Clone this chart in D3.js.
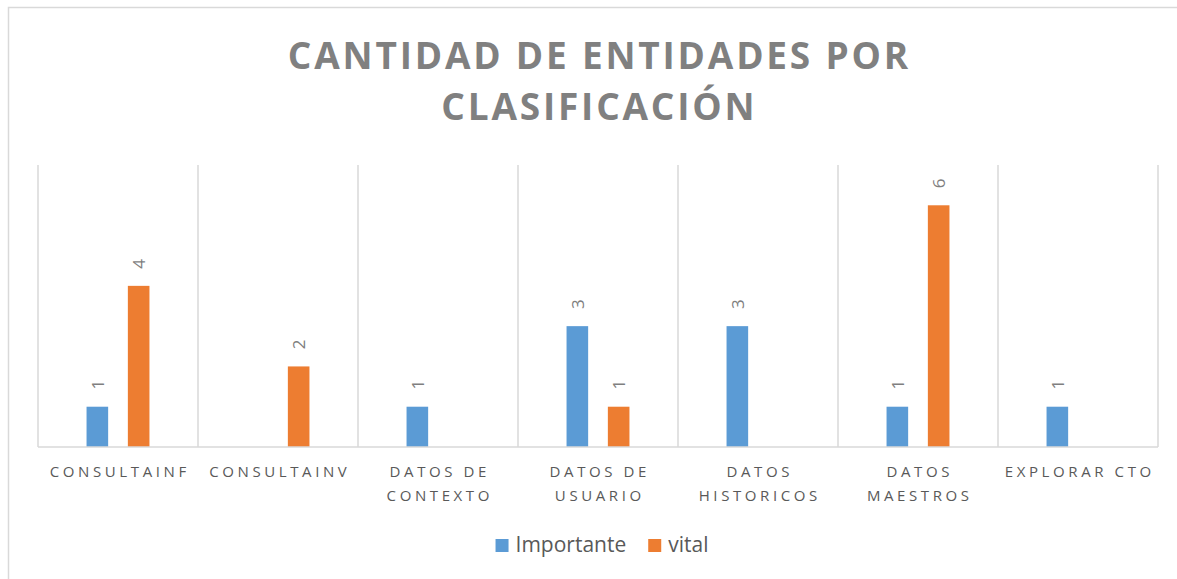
<!DOCTYPE html>
<html>
<head>
<meta charset="utf-8">
<script src="https://cdn.jsdelivr.net/npm/d3@7"></script>
<style>
  body { margin: 0; background: #fff; }
  svg { display: block; }
</style>
</head>
<body>
<svg></svg>
<script>
// data
var categories = ["CONSULTAINF", "CONSULTAINV", "DATOS DE CONTEXTO", "DATOS DE USUARIO",
                  "DATOS HISTORICOS", "DATOS MAESTROS", "EXPLORAR CTO"];
var seriesNames = ["Importante", "vital"];
var importante = [1, null, 1, 3, 3, 1, 1];
var vital = [4, 2, null, 1, null, 6, null];
var titleLines = ["CANTIDAD DE ENTIDADES POR", "CLASIFICACIÓN"];
var yMax = 7;

var colors = ["#5B9BD5", "#ED7D31"];
var seriesValues = [importante, vital];

var svgWidth = 1177, svgHeight = 579;
var plotLeft = 38, plotRight = 1158, plotTop = 165, plotBottom = 447;
var font = "'Open Sans', 'Noto Sans', sans-serif";

var svg = d3.select("svg")
    .attr("width", svgWidth)
    .attr("height", svgHeight);

// chart area border
svg.append("rect")
    .attr("x", 8.5).attr("y", 7.5)
    .attr("width", 1300).attr("height", 700)
    .attr("fill", "#fff")
    .attr("stroke", "#d9d9d9")
    .attr("stroke-width", 1.5);

var x0 = d3.scaleBand()
    .domain(categories)
    .range([plotLeft, plotRight])
    .padding(0);

var x1 = d3.scaleBand()
    .domain(seriesNames)
    .range([0, x0.bandwidth()])
    .paddingInner(0.477)
    .paddingOuter(1.175);

var y = d3.scaleLinear()
    .domain([0, yMax])
    .range([plotBottom, plotTop]);

// vertical gridlines between categories
var bounds = categories.map(function (c) { return x0(c); });
bounds.push(x0.range()[1]);

svg.append("g").selectAll("line")
    .data(bounds)
    .enter()
    .append("line")
    .attr("x1", function (d) { return d; })
    .attr("x2", function (d) { return d; })
    .attr("y1", plotTop)
    .attr("y2", plotBottom)
    .attr("stroke", "#d9d9d9")
    .attr("stroke-width", 1.5);

// title
svg.append("text")
    .attr("x", (plotLeft + plotRight) / 2)
    .attr("y", 69)
    .attr("text-anchor", "middle")
    .attr("font-family", font)
    .attr("font-weight", "bold")
    .attr("font-size", 37)
    .attr("letter-spacing", 2.8)
    .attr("fill", "#808080")
    .selectAll("tspan")
    .data(titleLines)
    .enter()
    .append("tspan")
    .attr("x", (plotLeft + plotRight) / 2 + 1.4)
    .attr("dy", function (d, i) { return i === 0 ? 0 : 51; })
    .text(function (d) { return d; });

// bars
var flat = [];
categories.forEach(function (c, i) {
    seriesNames.forEach(function (s, j) {
        var v = seriesValues[j][i];
        if (v != null) flat.push({ cat: c, series: s, value: v, color: colors[j] });
    });
});

svg.append("g").selectAll("rect")
    .data(flat)
    .enter()
    .append("rect")
    .attr("x", function (d) { return x0(d.cat) + x1(d.series); })
    .attr("y", function (d) { return y(d.value); })
    .attr("width", x1.bandwidth())
    .attr("height", function (d) { return y(0) - y(d.value); })
    .attr("fill", function (d) { return d.color; });

// baseline
svg.append("line")
    .attr("x1", plotLeft).attr("x2", plotRight)
    .attr("y1", plotBottom).attr("y2", plotBottom)
    .attr("stroke", "#d9d9d9")
    .attr("stroke-width", 1.5);

// data labels (rotated)
svg.append("g").selectAll("text")
    .data(flat)
    .enter()
    .append("text")
    .attr("transform", function (d) {
        var cx = x0(d.cat) + x1(d.series) + x1.bandwidth() / 2;
        var cy = y(d.value) - 22;
        return "translate(" + cx + "," + cy + ") rotate(-90)";
    })
    .attr("text-anchor", "middle")
    .attr("dominant-baseline", "central")
    .attr("font-family", font)
    .attr("font-size", 17)
    .attr("fill", "#7f7f7f")
    .text(function (d) { return d.value; });

// category labels, wrapped to the category width
var catG = svg.append("g")
    .attr("font-family", font)
    .attr("font-size", 15)
    .attr("letter-spacing", 3.6)
    .attr("fill", "#595959");

categories.forEach(function (c) {
    var t = catG.append("text")
        .attr("text-anchor", "middle")
        .attr("y", 477);
    var words = c.split(" ");
    var lines = [];
    var line = [];
    words.forEach(function (w) {
        line.push(w);
        var probe = t.append("tspan").text(line.join(" "));
        var wdt = probe.node().getComputedTextLength();
        probe.remove();
        if (wdt > x0.bandwidth() - 6 && line.length > 1) {
            line.pop();
            lines.push(line.join(" "));
            line = [w];
        }
    });
    lines.push(line.join(" "));
    t.selectAll("tspan")
        .data(lines)
        .enter()
        .append("tspan")
        .attr("x", x0(c) + x0.bandwidth() / 2 + 1.8)
        .attr("dy", function (d, i) { return i === 0 ? 0 : 23.5; })
        .text(function (d) { return d; });
});

// legend
var legend = svg.append("g")
    .attr("font-family", font)
    .attr("font-size", 21)
    .attr("fill", "#595959");

var lx = 0;
var items = legend.selectAll("g")
    .data(seriesNames)
    .enter()
    .append("g");

items.append("rect")
    .attr("width", 13).attr("height", 13)
    .attr("y", -13)
    .attr("fill", function (d, i) { return colors[i]; });

items.append("text")
    .attr("x", 20)
    .text(function (d) { return d; });

items.each(function () {
    var g = d3.select(this);
    g.attr("transform", "translate(" + lx + ",0)");
    lx += 20 + g.select("text").node().getComputedTextLength() + 22;
});
lx -= 22;
legend.attr("transform", "translate(" + ((plotLeft + plotRight) / 2 - lx / 2 + 4) + ",552)");
</script>
</body>
</html>
